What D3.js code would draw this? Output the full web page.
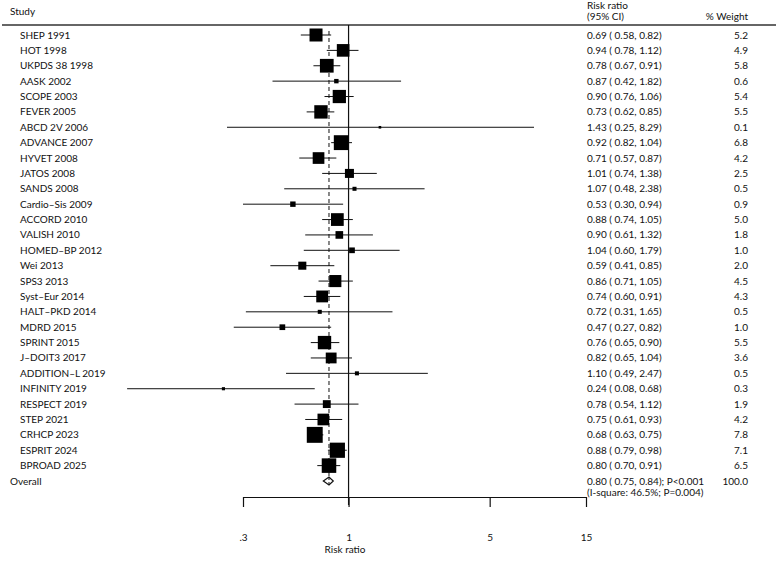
<!DOCTYPE html>
<html lang="en">
  <head>
    <meta charset="utf-8">
    <title>Forest plot</title>
    <script src="https://d3js.org/d3.v7.min.js"></script>
    <style>
      body { margin: 0; background: #fff; }
      text { font-family: Lato, "Open Sans", sans-serif; font-size: 10px; fill: #111; }
    </style>
  </head>
  <body>
    <script>

      var studies = ["SHEP 1991", "HOT 1998", "UKPDS 38 1998", "AASK 2002", "SCOPE 2003", "FEVER 2005",
        "ABCD 2V 2006", "ADVANCE 2007", "HYVET 2008", "JATOS 2008", "SANDS 2008", "Cardio\u2013Sis 2009",
        "ACCORD 2010", "VALISH 2010", "HOMED\u2013BP 2012", "Wei 2013", "SPS3 2013", "Syst\u2013Eur 2014",
        "HALT\u2013PKD 2014", "MDRD 2015", "SPRINT 2015", "J\u2013DOIT3 2017", "ADDITION\u2013L 2019",
        "INFINITY 2019", "RESPECT 2019", "STEP 2021", "CRHCP 2023", "ESPRIT 2024", "BPROAD 2025"];
      var rr = [0.69, 0.94, 0.78, 0.87, 0.90, 0.73, 1.43, 0.92, 0.71, 1.01, 1.07, 0.53, 0.88, 0.90, 1.04,
        0.59, 0.86, 0.74, 0.72, 0.47, 0.76, 0.82, 1.10, 0.24, 0.78, 0.75, 0.68, 0.88, 0.80];
      var lower = [0.58, 0.78, 0.67, 0.42, 0.76, 0.62, 0.25, 0.82, 0.57, 0.74, 0.48, 0.30, 0.74, 0.61, 0.60,
        0.41, 0.71, 0.60, 0.31, 0.27, 0.65, 0.65, 0.49, 0.08, 0.54, 0.61, 0.63, 0.79, 0.70];
      var upper = [0.82, 1.12, 0.91, 1.82, 1.06, 0.85, 8.29, 1.04, 0.87, 1.38, 2.38, 0.94, 1.05, 1.32, 1.79,
        0.85, 1.05, 0.91, 1.65, 0.82, 0.90, 1.04, 2.47, 0.68, 1.12, 0.93, 0.75, 0.98, 0.91];
      var weights = [5.2, 4.9, 5.8, 0.6, 5.4, 5.5, 0.1, 6.8, 4.2, 2.5, 0.5, 0.9, 5.0, 1.8, 1.0, 2.0, 4.5,
        4.3, 0.5, 1.0, 5.5, 3.6, 0.5, 0.3, 1.9, 4.2, 7.8, 7.1, 6.5];
      var overall = [0.80, 0.75, 0.84];
      var overallWeight = 100.0;
      var overallP = "P<0.001";
      var heterogeneity = "(I-square: 46.5%; P=0.004)";
      var tickVals = [0.3, 1, 5, 15];
      var tickLabels = [".3", "1", "5", "15"];

      var width = 776, height = 562;
      var svg = d3.select("body").append("svg")
                  .attr("width", width)
                  .attr("height", height);

      var x = d3.scaleLog().domain([0.3, 15]).range([243, 586]);
      var rows = studies.concat(["Overall"]);
      var y = d3.scalePoint().domain(rows).range([35, 481]);
      var axisY = 497;
      var f2 = d3.format(".2f");
      function ciText(e, l, u) { return f2(e) + " ( " + f2(l) + ", " + f2(u) + ")"; }
      function side(w) { return Math.max(2.6, 5.7 * Math.sqrt(w)); }

      // header
      svg.append("text").attr("x", 10).attr("y", 15).text("Study");
      svg.append("text").attr("x", 587).attr("y", 9).text("Risk ratio");
      svg.append("text").attr("x", 587).attr("y", 20).text("(95% CI)");
      svg.append("text").attr("x", 748).attr("y", 20).attr("text-anchor", "end").text("% Weight");
      svg.append("line").attr("x1", 2).attr("x2", width).attr("y1", 25).attr("y2", 25)
         .attr("stroke", "#333").attr("stroke-width", 1.5);

      // null line and overall dashed line
      svg.append("line").attr("x1", x(1)).attr("x2", x(1)).attr("y1", 25).attr("y2", axisY + 8)
         .attr("stroke", "#111").attr("stroke-width", 1.2);
      svg.append("line").attr("x1", x(overall[0])).attr("x2", x(overall[0]))
         .attr("y1", y(studies[0]) - 4).attr("y2", y("Overall") - 4)
         .attr("stroke", "#111").attr("stroke-dasharray", "4,3");

      var data = studies.map(function(s, i) {
        return { name: s, rr: rr[i], lo: lower[i], hi: upper[i], w: weights[i] };
      });

      var g = svg.selectAll("g.row").data(data).enter().append("g").attr("class", "row");

      g.append("text").attr("x", 20).attr("y", function(d) { return y(d.name) + 3.5; })
       .text(function(d) { return d.name; });

      g.append("line")
       .attr("x1", function(d) { return x(d.lo); })
       .attr("x2", function(d) { return x(d.hi); })
       .attr("y1", function(d) { return y(d.name); })
       .attr("y2", function(d) { return y(d.name); })
       .attr("stroke", "#111").attr("stroke-width", 1);

      g.append("rect")
       .attr("x", function(d) { return x(d.rr) - side(d.w) / 2; })
       .attr("y", function(d) { return y(d.name) - side(d.w) / 2; })
       .attr("width", function(d) { return side(d.w); })
       .attr("height", function(d) { return side(d.w); })
       .attr("fill", "#000");

      g.append("text").attr("x", 587).attr("y", function(d) { return y(d.name) + 3.5; })
       .text(function(d) { return ciText(d.rr, d.lo, d.hi); });

      g.append("text").attr("x", 748).attr("y", function(d) { return y(d.name) + 3.5; })
       .attr("text-anchor", "end")
       .text(function(d) { return d.w.toFixed(1); });

      // overall row
      var oy = y("Overall");
      svg.append("text").attr("x", 10).attr("y", oy + 3.5).text("Overall");
      svg.append("path")
         .attr("d", "M" + x(overall[1]) + "," + oy + "L" + x(overall[0]) + "," + (oy - 4) +
                    "L" + x(overall[2]) + "," + oy + "L" + x(overall[0]) + "," + (oy + 4) + "Z")
         .attr("fill", "none").attr("stroke", "#111").attr("stroke-width", 1.2);
      svg.append("line").attr("x1", x(overall[0])).attr("x2", x(overall[0]))
         .attr("y1", oy - 4).attr("y2", oy + 4).attr("stroke", "#111").attr("stroke-dasharray", "3,2");
      svg.append("text").attr("x", 587).attr("y", oy + 3.5)
         .text(ciText(overall[0], overall[1], overall[2]) + "; " + overallP);
      svg.append("text").attr("x", 587).attr("y", oy + 15).text(heterogeneity);
      svg.append("text").attr("x", 748).attr("y", oy + 3.5).attr("text-anchor", "end")
         .text(overallWeight.toFixed(1));

      // axis
      var axis = d3.axisBottom(x).tickValues(tickVals)
                   .tickFormat(function(d, i) { return tickLabels[i]; })
                   .tickSize(10).tickSizeOuter(0).tickPadding(27);
      var ax = svg.append("g").attr("transform", "translate(0," + axisY + ")").call(axis);
      ax.select(".domain").attr("stroke", "#111").attr("stroke-width", 1.2);
      ax.selectAll(".tick line").attr("stroke", "#111").attr("stroke-width", 1.2);
      ax.selectAll(".tick text").style("font-family", "Lato, sans-serif").style("font-size", "10px").attr("fill", "#111");

      svg.append("text").attr("x", 345).attr("y", 553).attr("text-anchor", "middle").text("Risk ratio");

    </script>
  </body>
</html>
